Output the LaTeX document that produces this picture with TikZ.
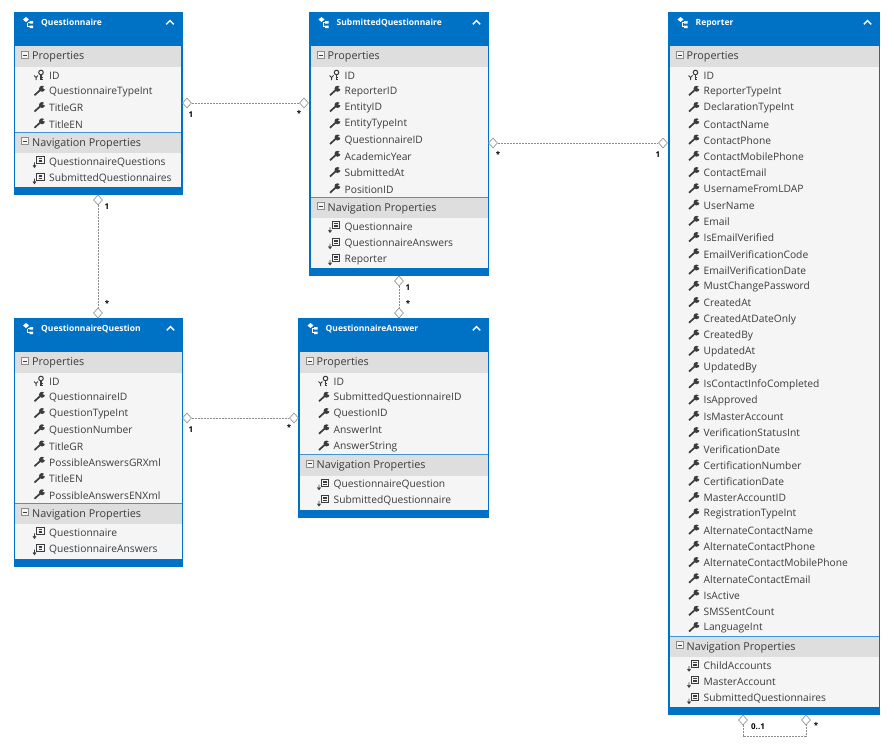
\documentclass[tikz,border=0pt]{standalone}
\usepackage{fontspec}
\usepackage{xcolor}
\usetikzlibrary{shapes.geometric}
\setmainfont{Open Sans}
\definecolor{boxblue}{HTML}{0072C6}
\definecolor{bandgray}{HTML}{DEDEDE}
\definecolor{rowgray}{HTML}{F5F5F5}
\definecolor{inkgray}{HTML}{3C3C3C}
\definecolor{linkgray}{HTML}{8C8C8C}
\tikzset{
	rowtext/.style={anchor=west, inner sep=0pt, text=inkgray, font=\fontsize{10.25}{12}\selectfont},
	bandtext/.style={rowtext, font=\fontsize{10.8}{12}\selectfont},
	titletext/.style={anchor=west, inner sep=0pt, text=white, font=\fontsize{8.5}{10}\selectfont\bfseries},
	endmark/.style={diamond, draw=linkgray, fill=white, line width=0.6pt, inner sep=0pt, minimum width=9pt, minimum height=10pt},
	linktext/.style={inner sep=0pt, text=black, font=\fontsize{8}{9}\selectfont\bfseries},
	link/.style={draw=linkgray, line width=0.7pt, dash pattern=on 2pt off 1pt},
	wrenchicon/.pic={
		\draw[inkgray, line width=1.7pt] (-4.5,4) -- (1,-1);
		\fill[inkgray] (3,-2.5) circle (3);
		\fill[rowgray] (3.5,-3.2) -- (6.5,-5.5) -- (6.8,-1.8) -- cycle;
	},
	keyicon/.pic={
		\draw[inkgray, line width=1pt] (2,-2.5) circle (2.3);
		\draw[inkgray, line width=1.1pt] (2,0) -- (2,5) (2,2.5) -- (3.8,2.5) (2,4.5) -- (3.8,4.5);
		\draw[inkgray, line width=1pt] (-5,0.5) -- (-3,2.5) -- (-1,0.5) (-3,2.5) -- (-3,5);
	},
	navicon/.pic={
		\draw[inkgray, line width=0.7pt, fill=rowgray] (-2.5,-5) rectangle (5,2);
		\draw[inkgray, line width=0.7pt] (-0.5,-3) -- (3,-3) (-0.5,-1.5) -- (3,-1.5) (-0.5,0) -- (3,0);
		\draw[inkgray, line width=0.9pt] (-4.5,0.5) -- (-4.5,5) (-6,3.5) -- (-4.5,5.5) -- (-3,3.5);
	},
	entityicon/.pic={
		\fill[white] (-5,-3) -- (-2,-5.5) -- (1,-3) -- (-2,-0.5) -- cycle;
		\fill[white] (1.5,-1.5) rectangle (5,1) (1.5,3) rectangle (5,5.5);
		\draw[white, line width=0.8pt] (-0.5,0) -- (-0.5,4.2) -- (1.5,4.2) (-0.5,0) -- (1.5,0);
	},
	minusicon/.pic={
		\draw[linkgray, line width=0.6pt, fill=rowgray] (-3.5,-3.5) rectangle (3.5,3.5);
		\draw[inkgray, line width=0.7pt] (-2,0) -- (2,0);
	},
	chevron/.pic={
		\draw[white, line width=1.5pt] (-3.7,1.8) -- (0,-1.8) -- (3.7,1.8);
	},
}
% name, left, right, top, bottom, title, properties, navigation properties
\newcommand{\entitybox}[8]{
	\def \rowh{16.25};
	\node[fill=boxblue, inner sep=0pt, minimum width=#3pt-#2pt, minimum height=#5pt-#4pt] (#1) at ({(#2+#3)/2}, {(#4+#5)/2}) {};
	\fill[rowgray] (#2+1.5, #4+34) rectangle (#3-1.5, #5-8);
	\pic at (#2+14.5, #4+10.5) {entityicon};
	\node[titletext] (#1-title) at (#2+27.5, #4+11) {#6};
	\pic at (#3-12.5, #4+10.5) {chevron};
	\fill[bandgray] (#2+1.5, #4+34) rectangle (#3-1.5, #4+55);
	\pic at (#2+11.5, #4+43) {minusicon};
	\node[bandtext] (#1-props) at (#2+18.5, #4+45) {Properties};
	\foreach \item [count=\i] in {#7} {
		\pgfmathsetmacro{\rowy}{#4+63+(\i-1)*\rowh}
		\ifnum\i=1
			\pic at (#2+25.5, \rowy) {keyicon};
		\else
			\pic at (#2+25.5, \rowy) {wrenchicon};
		\fi
		\node[rowtext] (#1-p\i) at (#2+35.5, \rowy+0.6) {\item};
		\global\let\lastrow\rowy
	}
	\pgfmathsetmacro{\navy}{\lastrow+19}
	\draw[boxblue!75, line width=0.8pt] (#2+1.5, \navy-10.5) -- (#3-1.5, \navy-10.5);
	\fill[bandgray] (#2+1.5, \navy-10) rectangle (#3-1.5, \navy+10.5);
	\pic at (#2+11.5, \navy-1.5) {minusicon};
	\node[bandtext] (#1-navs) at (#2+18.5, \navy+1) {Navigation Properties};
	\foreach \item [count=\i] in {#8} {
		\pgfmathsetmacro{\rowy}{\navy+19+(\i-1)*\rowh}
		\pic at (#2+25.5, \rowy) {navicon};
		\node[rowtext] (#1-n\i) at (#2+35.5, \rowy+0.6) {\item};
	}
}
\begin{document}
\begin{tikzpicture}[x=1pt, y=-1pt]
	\useasboundingbox (0, 0) rectangle (894, 755);
	\fill[white] (0, 0) rectangle (894, 755);

	\entitybox{quest}{13.5}{182.5}{12}{195}{Questionnaire}
		{ID, QuestionnaireTypeInt, TitleGR, TitleEN}
		{QuestionnaireQuestions, SubmittedQuestionnaires}
	\entitybox{subm}{309}{489}{12}{276}{SubmittedQuestionnaire}
		{ID, ReporterID, EntityID, EntityTypeInt, QuestionnaireID, AcademicYear, SubmittedAt, PositionID}
		{Questionnaire, QuestionnaireAnswers, Reporter}
	\entitybox{qquest}{13.5}{183}{318}{567}{QuestionnaireQuestion}
		{ID, QuestionnaireID, QuestionTypeInt, QuestionNumber, TitleGR, PossibleAnswersGRXml, TitleEN, PossibleAnswersENXml}
		{Questionnaire, QuestionnaireAnswers}
	\entitybox{answer}{298}{489}{318}{518}{QuestionnaireAnswer}
		{ID, SubmittedQuestionnaireID, QuestionID, AnswerInt, AnswerString}
		{QuestionnaireQuestion, SubmittedQuestionnaire}
	\entitybox{report}{668}{880}{12}{715}{Reporter}
		{ID, ReporterTypeInt, DeclarationTypeInt, ContactName, ContactPhone, ContactMobilePhone, ContactEmail, UsernameFromLDAP, UserName, Email, IsEmailVerified, EmailVerificationCode, EmailVerificationDate, MustChangePassword, CreatedAt, CreatedAtDateOnly, CreatedBy, UpdatedAt, UpdatedBy, IsContactInfoCompleted, IsApproved, IsMasterAccount, VerificationStatusInt, VerificationDate, CertificationNumber, CertificationDate, MasterAccountID, RegistrationTypeInt, AlternateContactName, AlternateContactPhone, AlternateContactMobilePhone, AlternateContactEmail, IsActive, SMSSentCount, LanguageInt}
		{ChildAccounts, MasterAccount, SubmittedQuestionnaires}

	% connector ends
	\node[endmark] (a1) at (187, 103) {};
	\node[endmark] (a2) at (304, 103) {};
	\node[endmark] (b1) at (98, 200) {};
	\node[endmark] (b2) at (98, 313) {};
	\node[endmark] (c1) at (399, 281) {};
	\node[endmark] (c2) at (399, 313) {};
	\node[endmark] (d1) at (187, 418) {};
	\node[endmark] (d2) at (294, 418) {};
	\node[endmark] (e1) at (493, 143) {};
	\node[endmark] (e2) at (663, 143) {};
	\node[endmark] (f1) at (743, 720) {};
	\node[endmark] (f2) at (806, 720) {};
	\coordinate (f3) at (743, 736);
	\coordinate (f4) at (806, 736);

	\draw[link] (a1) -- (a2);
	\draw[link] (b1) -- (b2);
	\draw[link] (c1) -- (c2);
	\draw[link] (d1) -- (d2);
	\draw[link] (e1) -- (e2);
	\draw[link] (f1) -- (f3) -- (f4) -- (f2);

	\node[linktext] (a1t) at (191, 115) {1};
	\node[linktext] (a2t) at (299, 113) {*};
	\node[linktext] (b1t) at (107, 207) {1};
	\node[linktext] (b2t) at (107, 303) {*};
	\node[linktext] (c1t) at (408, 288) {1};
	\node[linktext] (c2t) at (408, 303) {*};
	\node[linktext] (d1t) at (191, 430) {1};
	\node[linktext] (d2t) at (289, 427) {*};
	\node[linktext] (e1t) at (498, 154) {*};
	\node[linktext] (e2t) at (658, 155) {1};
	\node[linktext] (f1t) at (758, 727) {0..1};
	\node[linktext] (f2t) at (816, 725) {*};
\end{tikzpicture}
\end{document}
